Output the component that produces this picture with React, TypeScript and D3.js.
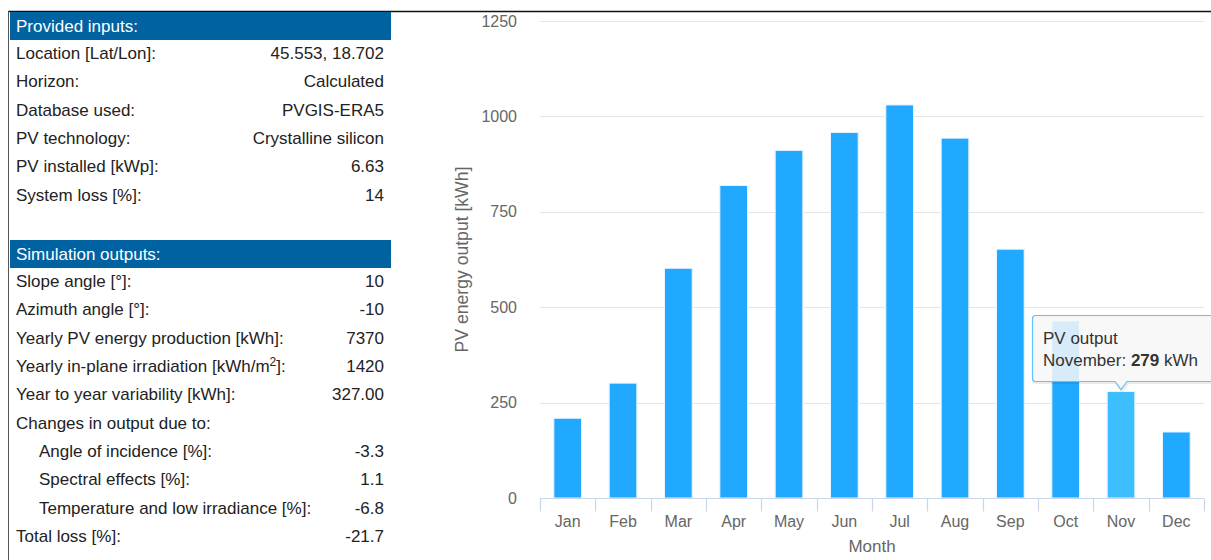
import { useEffect, useRef } from "react";
import * as d3 from "d3";

// Chart data
const months = ["Jan", "Feb", "Mar", "Apr", "May", "Jun", "Jul", "Aug", "Sep", "Oct", "Nov", "Dec"];
const monthNames = ["January", "February", "March", "April", "May", "June", "July", "August", "September", "October", "November", "December"];
const pvOutput = [209, 301, 602, 819, 911, 958, 1030, 943, 652, 464, 279, 173];
const yTicks = [0, 250, 500, 750, 1000, 1250];
const hoveredIndex = 10;

// Table data
const inputLabels = ["Location [Lat/Lon]:", "Horizon:", "Database used:", "PV technology:", "PV installed [kWp]:", "System loss [%]:"];
const inputValues = ["45.553, 18.702", "Calculated", "PVGIS-ERA5", "Crystalline silicon", "6.63", "14"];
const outputLabels = [
    "Slope angle [°]:",
    "Azimuth angle [°]:",
    "Yearly PV energy production [kWh]:",
    "Yearly in-plane irradiation [kWh/m²]:",
    "Year to year variability [kWh]:",
    "Changes in output due to:",
    "Angle of incidence [%]:",
    "Spectral effects [%]:",
    "Temperature and low irradiance [%]:",
    "Total loss [%]:",
];
const outputValues = ["10", "-10", "7370", "1420", "327.00", "", "-3.3", "1.1", "-6.8", "-21.7"];
const outputIndent = [false, false, false, false, false, false, true, true, true, false];

const width = 1211;
const height = 560;
const margin = { top: 21, right: 7, bottom: 62, left: 540 };
const font = "'Liberation Sans', Arial, sans-serif";

const drawChart = (el: SVGSVGElement) => {
    const svg = d3.select(el);
    svg.selectAll("*").remove();

    // frame lines
    svg.append("line").attr("x1", 8).attr("x2", width).attr("y1", 11.5).attr("y2", 11.5)
        .attr("stroke", "#111").attr("stroke-width", 1.5);
    svg.append("line").attr("x1", 8.5).attr("x2", 8.5).attr("y1", 11).attr("y2", height)
        .attr("stroke", "#555").attr("stroke-width", 1);

    // ---- table ----
    const table = svg.append("g").attr("font-family", font).attr("font-size", 17).attr("fill", "#222");
    const rowH = 28.35;

    const header = (y: number, label: string) => {
        table.append("rect").attr("x", 10).attr("y", y).attr("width", 381).attr("height", 28).attr("fill", "#0062a0");
        table.append("text").attr("x", 16).attr("y", y + 14).attr("dy", "0.35em").attr("fill", "#fff").text(label);
    };

    header(12, "Provided inputs:");
    inputLabels.forEach((lab, i) => {
        const y = 53 + i * rowH;
        table.append("text").attr("x", 16).attr("y", y).attr("dy", "0.35em").text(lab);
        table.append("text").attr("x", 384).attr("y", y).attr("dy", "0.35em").attr("text-anchor", "end").text(inputValues[i]);
    });

    header(240, "Simulation outputs:");
    outputLabels.forEach((lab, i) => {
        const y = 281 + i * rowH;
        const t = table.append("text").attr("x", outputIndent[i] ? 39 : 16).attr("y", y).attr("dy", "0.35em");
        if (lab.includes("m²")) {
            const [a, b] = lab.split("²");
            t.append("tspan").text(a);
            t.append("tspan").attr("font-size", 12).attr("dy", "-6").text("2");
            t.append("tspan").attr("dy", "6").text(b);
        } else {
            t.text(lab);
        }
        table.append("text").attr("x", 384).attr("y", y).attr("dy", "0.35em").attr("text-anchor", "end").text(outputValues[i]);
    });

    // ---- chart ----
    const x = d3.scaleBand()
        .domain(months)
        .range([margin.left, width - margin.right])
        .paddingInner(0.5)
        .paddingOuter(0.25);

    const y = d3.scaleLinear()
        .domain([0, 1250])
        .range([height - margin.bottom, margin.top]);

    const step = x.step();
    const x0 = x.range()[0];
    const x1 = x.range()[1];

    // grid
    svg.append("g")
        .selectAll("line")
        .data(yTicks.filter(d => d > 0))
        .join("line")
        .attr("x1", x0).attr("x2", x1)
        .attr("y1", d => Math.round(y(d)) + 0.5).attr("y2", d => Math.round(y(d)) + 0.5)
        .attr("stroke", "#e6e6e6").attr("stroke-width", 1.2);

    // y labels
    svg.append("g")
        .attr("font-family", font).attr("font-size", 16).attr("fill", "#666").attr("text-anchor", "end")
        .selectAll("text")
        .data(yTicks)
        .join("text")
        .attr("x", 517).attr("y", d => y(d)).attr("dy", "0.35em")
        .text(d => d);

    // y title
    svg.append("text")
        .attr("transform", `translate(468,${(y(0) + y(1250)) / 2}) rotate(-90)`)
        .attr("text-anchor", "middle")
        .attr("font-family", font).attr("font-size", 17.6).attr("fill", "#666")
        .text("PV energy output [kWh]");

    // bars
    svg.append("g")
        .selectAll("rect")
        .data(pvOutput)
        .join("rect")
        .attr("x", (d, i) => x(months[i])!)
        .attr("width", x.bandwidth())
        .attr("y", d => y(d))
        .attr("height", d => y(0) - y(d))
        .attr("fill", (d, i) => (i === hoveredIndex ? "#3dbfff" : "#21a8ff"))
        .attr("stroke", "#e8f4ff").attr("stroke-width", 1);

    // x axis
    const axisY = Math.round(y(0)) + 0.5;
    svg.append("line").attr("x1", x0).attr("x2", x1).attr("y1", axisY).attr("y2", axisY)
        .attr("stroke", "#ccd6eb").attr("stroke-width", 1.2);
    svg.append("g")
        .selectAll("line")
        .data(d3.range(months.length + 1))
        .join("line")
        .attr("x1", i => Math.round(x0 + i * step) + 0.5).attr("x2", i => Math.round(x0 + i * step) + 0.5)
        .attr("y1", axisY).attr("y2", axisY + 13)
        .attr("stroke", "#ccd6eb").attr("stroke-width", 1.2);

    svg.append("g")
        .attr("font-family", font).attr("font-size", 16).attr("fill", "#666").attr("text-anchor", "middle")
        .selectAll("text")
        .data(months)
        .join("text")
        .attr("x", d => x(d)! + x.bandwidth() / 2)
        .attr("y", 521).attr("dy", "0.35em")
        .text(d => d);

    svg.append("text")
        .attr("x", (x0 + x1) / 2).attr("y", 546).attr("dy", "0.35em")
        .attr("text-anchor", "middle")
        .attr("font-family", font).attr("font-size", 17).attr("fill", "#666")
        .text("Month");

    // tooltip
    const hx = x(months[hoveredIndex])! + x.bandwidth() / 2;
    const hy = y(pvOutput[hoveredIndex]);
    const tipL = 1032.5, tipT = 315.5, tipR = 1216, tipB = 381.5;
    const tipPath = `M${tipL + 3},${tipT} L${tipR},${tipT} L${tipR},${tipB} L${hx + 6},${tipB} L${hx},${hy - 2} L${hx - 6},${tipB} L${tipL + 3},${tipB} Q${tipL},${tipB} ${tipL},${tipB - 3} L${tipL},${tipT + 3} Q${tipL},${tipT} ${tipL + 3},${tipT} Z`;
    svg.append("path").attr("d", tipPath).attr("transform", "translate(1,1)")
        .attr("fill", "none").attr("stroke", "#000").attr("stroke-opacity", 0.08).attr("stroke-width", 3);
    svg.append("path").attr("d", tipPath)
        .attr("fill", "#f7f7f7").attr("fill-opacity", 0.85)
        .attr("stroke", "#5cc4ff").attr("stroke-width", 1.2);

    const tt = svg.append("g").attr("font-family", font).attr("font-size", 17).attr("fill", "#333");
    tt.append("text").attr("x", 1043).attr("y", 338).attr("dy", "0.35em").text("PV output");
    const t2 = tt.append("text").attr("x", 1043).attr("y", 360).attr("dy", "0.35em");
    t2.append("tspan").text(`${monthNames[hoveredIndex]}: `);
    t2.append("tspan").attr("font-weight", "bold").text(pvOutput[hoveredIndex]);
    t2.append("tspan").text(" kWh");
};

export default function App() {
    const ref = useRef<SVGSVGElement>(null);

    useEffect(() => {
        if (ref.current) drawChart(ref.current);
    }, []);

    return (
        <svg
            ref={ref}
            width={width}
            height={height}
            style={{ position: "absolute", left: 0, top: 0, background: "#fff" }}
        />
    );
}
